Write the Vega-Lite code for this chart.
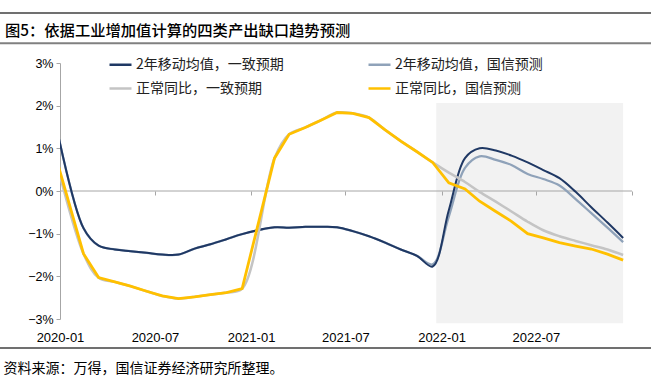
{
  "$schema": "https://vega.github.io/schema/vega-lite/v6.json",
  "width": 572,
  "height": 256,
  "autosize": {"type": "none"},
  "padding": {"left": 60, "top": 63, "right": 19, "bottom": 62},
  "background": "#ffffff",
  "config": {"view": {"stroke": null}},
  "title": {
    "text": "图5：依据工业增加值计算的四类产出缺口趋势预测",
    "anchor": "start",
    "frame": "group",
    "font": "Noto Sans CJK SC",
    "fontSize": 15.3,
    "fontWeight": 500,
    "color": "#000000",
    "baseline": "middle",
    "offset": -34,
    "dx": -55
  },
  "data": {
    "values": [
      {"date": "2019-12-15", "series": "2年移动均值，一致预期", "value": 2.1},
      {"date": "2020-02-15", "series": "2年移动均值，一致预期", "value": -0.87},
      {"date": "2020-03-15", "series": "2年移动均值，一致预期", "value": -1.28},
      {"date": "2020-04-15", "series": "2年移动均值，一致预期", "value": -1.37},
      {"date": "2020-05-15", "series": "2年移动均值，一致预期", "value": -1.41},
      {"date": "2020-06-15", "series": "2年移动均值，一致预期", "value": -1.45},
      {"date": "2020-07-15", "series": "2年移动均值，一致预期", "value": -1.49},
      {"date": "2020-08-15", "series": "2年移动均值，一致预期", "value": -1.49},
      {"date": "2020-09-15", "series": "2年移动均值，一致预期", "value": -1.35},
      {"date": "2020-10-15", "series": "2年移动均值，一致预期", "value": -1.25},
      {"date": "2020-11-15", "series": "2年移动均值，一致预期", "value": -1.13},
      {"date": "2020-12-15", "series": "2年移动均值，一致预期", "value": -1.01},
      {"date": "2021-02-15", "series": "2年移动均值，一致预期", "value": -0.85},
      {"date": "2021-03-15", "series": "2年移动均值，一致预期", "value": -0.86},
      {"date": "2021-04-15", "series": "2年移动均值，一致预期", "value": -0.84},
      {"date": "2021-05-15", "series": "2年移动均值，一致预期", "value": -0.84},
      {"date": "2021-06-15", "series": "2年移动均值，一致预期", "value": -0.85},
      {"date": "2021-07-15", "series": "2年移动均值，一致预期", "value": -0.94},
      {"date": "2021-08-15", "series": "2年移动均值，一致预期", "value": -1.06},
      {"date": "2021-09-15", "series": "2年移动均值，一致预期", "value": -1.21},
      {"date": "2021-10-15", "series": "2年移动均值，一致预期", "value": -1.37},
      {"date": "2021-11-15", "series": "2年移动均值，一致预期", "value": -1.52},
      {"date": "2021-12-15", "series": "2年移动均值，一致预期", "value": -1.77},
      {"date": "2022-01-15", "series": "2年移动均值，一致预期", "value": -0.45},
      {"date": "2022-02-15", "series": "2年移动均值，一致预期", "value": 0.77},
      {"date": "2022-03-15", "series": "2年移动均值，一致预期", "value": 1.0},
      {"date": "2022-04-15", "series": "2年移动均值，一致预期", "value": 0.95},
      {"date": "2022-05-15", "series": "2年移动均值，一致预期", "value": 0.83},
      {"date": "2022-06-15", "series": "2年移动均值，一致预期", "value": 0.67},
      {"date": "2022-07-15", "series": "2年移动均值，一致预期", "value": 0.49},
      {"date": "2022-08-15", "series": "2年移动均值，一致预期", "value": 0.3},
      {"date": "2022-09-15", "series": "2年移动均值，一致预期", "value": -0.02},
      {"date": "2022-10-15", "series": "2年移动均值，一致预期", "value": -0.38},
      {"date": "2022-11-15", "series": "2年移动均值，一致预期", "value": -0.74},
      {"date": "2022-12-15", "series": "2年移动均值，一致预期", "value": -1.1},

      {"date": "2019-12-15", "series": "2年移动均值，国信预测", "value": 2.1},
      {"date": "2020-02-15", "series": "2年移动均值，国信预测", "value": -0.87},
      {"date": "2020-03-15", "series": "2年移动均值，国信预测", "value": -1.28},
      {"date": "2020-04-15", "series": "2年移动均值，国信预测", "value": -1.37},
      {"date": "2020-05-15", "series": "2年移动均值，国信预测", "value": -1.41},
      {"date": "2020-06-15", "series": "2年移动均值，国信预测", "value": -1.45},
      {"date": "2020-07-15", "series": "2年移动均值，国信预测", "value": -1.49},
      {"date": "2020-08-15", "series": "2年移动均值，国信预测", "value": -1.49},
      {"date": "2020-09-15", "series": "2年移动均值，国信预测", "value": -1.35},
      {"date": "2020-10-15", "series": "2年移动均值，国信预测", "value": -1.25},
      {"date": "2020-11-15", "series": "2年移动均值，国信预测", "value": -1.13},
      {"date": "2020-12-15", "series": "2年移动均值，国信预测", "value": -1.01},
      {"date": "2021-02-15", "series": "2年移动均值，国信预测", "value": -0.85},
      {"date": "2021-03-15", "series": "2年移动均值，国信预测", "value": -0.86},
      {"date": "2021-04-15", "series": "2年移动均值，国信预测", "value": -0.84},
      {"date": "2021-05-15", "series": "2年移动均值，国信预测", "value": -0.84},
      {"date": "2021-06-15", "series": "2年移动均值，国信预测", "value": -0.85},
      {"date": "2021-07-15", "series": "2年移动均值，国信预测", "value": -0.94},
      {"date": "2021-08-15", "series": "2年移动均值，国信预测", "value": -1.06},
      {"date": "2021-09-15", "series": "2年移动均值，国信预测", "value": -1.21},
      {"date": "2021-10-15", "series": "2年移动均值，国信预测", "value": -1.37},
      {"date": "2021-11-15", "series": "2年移动均值，国信预测", "value": -1.52},
      {"date": "2021-12-15", "series": "2年移动均值，国信预测", "value": -1.72},
      {"date": "2022-01-15", "series": "2年移动均值，国信预测", "value": -0.6},
      {"date": "2022-02-15", "series": "2年移动均值，国信预测", "value": 0.54},
      {"date": "2022-03-15", "series": "2年移动均值，国信预测", "value": 0.81},
      {"date": "2022-04-15", "series": "2年移动均值，国信预测", "value": 0.73},
      {"date": "2022-05-15", "series": "2年移动均值，国信预测", "value": 0.61},
      {"date": "2022-06-15", "series": "2年移动均值，国信预测", "value": 0.4},
      {"date": "2022-07-15", "series": "2年移动均值，国信预测", "value": 0.28},
      {"date": "2022-08-15", "series": "2年移动均值，国信预测", "value": 0.13},
      {"date": "2022-09-15", "series": "2年移动均值，国信预测", "value": -0.19},
      {"date": "2022-10-15", "series": "2年移动均值，国信预测", "value": -0.52},
      {"date": "2022-11-15", "series": "2年移动均值，国信预测", "value": -0.86},
      {"date": "2022-12-15", "series": "2年移动均值，国信预测", "value": -1.2},

      {"date": "2019-12-15", "series": "正常同比，一致预期", "value": 1.18},
      {"date": "2020-02-15", "series": "正常同比，一致预期", "value": -1.47},
      {"date": "2020-03-15", "series": "正常同比，一致预期", "value": -2.03},
      {"date": "2020-04-15", "series": "正常同比，一致预期", "value": -2.13},
      {"date": "2020-05-15", "series": "正常同比，一致预期", "value": -2.23},
      {"date": "2020-06-15", "series": "正常同比，一致预期", "value": -2.35},
      {"date": "2020-07-15", "series": "正常同比，一致预期", "value": -2.46},
      {"date": "2020-08-15", "series": "正常同比，一致预期", "value": -2.52},
      {"date": "2020-09-15", "series": "正常同比，一致预期", "value": -2.48},
      {"date": "2020-10-15", "series": "正常同比，一致预期", "value": -2.43},
      {"date": "2020-11-15", "series": "正常同比，一致预期", "value": -2.38},
      {"date": "2020-12-15", "series": "正常同比，一致预期", "value": -2.29},
      {"date": "2021-02-15", "series": "正常同比，一致预期", "value": 0.77},
      {"date": "2021-03-15", "series": "正常同比，一致预期", "value": 1.33},
      {"date": "2021-04-15", "series": "正常同比，一致预期", "value": 1.49},
      {"date": "2021-05-15", "series": "正常同比，一致预期", "value": 1.66},
      {"date": "2021-06-15", "series": "正常同比，一致预期", "value": 1.84},
      {"date": "2021-07-15", "series": "正常同比，一致预期", "value": 1.82},
      {"date": "2021-08-15", "series": "正常同比，一致预期", "value": 1.72},
      {"date": "2021-09-15", "series": "正常同比，一致预期", "value": 1.43},
      {"date": "2021-10-15", "series": "正常同比，一致预期", "value": 1.17},
      {"date": "2021-11-15", "series": "正常同比，一致预期", "value": 0.92},
      {"date": "2021-12-15", "series": "正常同比，一致预期", "value": 0.67},
      {"date": "2022-01-15", "series": "正常同比，一致预期", "value": 0.43},
      {"date": "2022-02-15", "series": "正常同比，一致预期", "value": 0.21},
      {"date": "2022-03-15", "series": "正常同比，一致预期", "value": -0.02},
      {"date": "2022-04-15", "series": "正常同比，一致预期", "value": -0.25},
      {"date": "2022-05-15", "series": "正常同比，一致预期", "value": -0.48},
      {"date": "2022-06-15", "series": "正常同比，一致预期", "value": -0.72},
      {"date": "2022-07-15", "series": "正常同比，一致预期", "value": -0.92},
      {"date": "2022-08-15", "series": "正常同比，一致预期", "value": -1.06},
      {"date": "2022-09-15", "series": "正常同比，一致预期", "value": -1.17},
      {"date": "2022-10-15", "series": "正常同比，一致预期", "value": -1.27},
      {"date": "2022-11-15", "series": "正常同比，一致预期", "value": -1.37},
      {"date": "2022-12-15", "series": "正常同比，一致预期", "value": -1.5},

      {"date": "2019-12-15", "series": "正常同比，国信预测", "value": 1.18},
      {"date": "2020-02-15", "series": "正常同比，国信预测", "value": -1.47},
      {"date": "2020-03-15", "series": "正常同比，国信预测", "value": -2.03},
      {"date": "2020-04-15", "series": "正常同比，国信预测", "value": -2.13},
      {"date": "2020-05-15", "series": "正常同比，国信预测", "value": -2.23},
      {"date": "2020-06-15", "series": "正常同比，国信预测", "value": -2.35},
      {"date": "2020-07-15", "series": "正常同比，国信预测", "value": -2.46},
      {"date": "2020-08-15", "series": "正常同比，国信预测", "value": -2.52},
      {"date": "2020-09-15", "series": "正常同比，国信预测", "value": -2.48},
      {"date": "2020-10-15", "series": "正常同比，国信预测", "value": -2.43},
      {"date": "2020-11-15", "series": "正常同比，国信预测", "value": -2.38},
      {"date": "2020-12-15", "series": "正常同比，国信预测", "value": -2.29},
      {"date": "2021-02-15", "series": "正常同比，国信预测", "value": 0.77},
      {"date": "2021-03-15", "series": "正常同比，国信预测", "value": 1.33},
      {"date": "2021-04-15", "series": "正常同比，国信预测", "value": 1.49},
      {"date": "2021-05-15", "series": "正常同比，国信预测", "value": 1.66},
      {"date": "2021-06-15", "series": "正常同比，国信预测", "value": 1.84},
      {"date": "2021-07-15", "series": "正常同比，国信预测", "value": 1.82},
      {"date": "2021-08-15", "series": "正常同比，国信预测", "value": 1.72},
      {"date": "2021-09-15", "series": "正常同比，国信预测", "value": 1.43},
      {"date": "2021-10-15", "series": "正常同比，国信预测", "value": 1.17},
      {"date": "2021-11-15", "series": "正常同比，国信预测", "value": 0.92},
      {"date": "2021-12-15", "series": "正常同比，国信预测", "value": 0.67},
      {"date": "2022-01-15", "series": "正常同比，国信预测", "value": 0.19},
      {"date": "2022-02-15", "series": "正常同比，国信预测", "value": 0.05},
      {"date": "2022-03-15", "series": "正常同比，国信预测", "value": -0.24},
      {"date": "2022-04-15", "series": "正常同比，国信预测", "value": -0.48},
      {"date": "2022-05-15", "series": "正常同比，国信预测", "value": -0.71},
      {"date": "2022-06-15", "series": "正常同比，国信预测", "value": -1.0},
      {"date": "2022-07-15", "series": "正常同比，国信预测", "value": -1.1},
      {"date": "2022-08-15", "series": "正常同比，国信预测", "value": -1.21},
      {"date": "2022-09-15", "series": "正常同比，国信预测", "value": -1.29},
      {"date": "2022-10-15", "series": "正常同比，国信预测", "value": -1.36},
      {"date": "2022-11-15", "series": "正常同比，国信预测", "value": -1.48},
      {"date": "2022-12-15", "series": "正常同比，国信预测", "value": -1.62}
    ]
  },
  "resolve": {"axis": {"x": "independent"}},
  "layer": [
    {
      "data": {"values": [{}]},
      "mark": {"type": "rule", "color": "#404040", "strokeWidth": 1.5},
      "encoding": {
        "x": {"datum": {"year": 2019, "month": 8, "date": 1, "utc": true}, "type": "temporal", "scale": {"type": "utc", "domain": [{"year": 2020, "month": 1, "date": 1, "utc": true}, {"year": 2023, "month": 1, "date": 1, "utc": true}]}, "axis": null},
        "x2": {"datum": {"year": 2023, "month": 3, "date": 1, "utc": true}},
        "y": {"datum": 4.17, "type": "quantitative", "scale": {"domain": [-3, 3], "nice": false}}
      }
    },
    {
      "data": {"values": [{}]},
      "mark": {"type": "rule", "color": "#808080", "strokeWidth": 2},
      "encoding": {
        "x": {"datum": {"year": 2019, "month": 8, "date": 1, "utc": true}, "type": "temporal", "scale": {"type": "utc", "domain": [{"year": 2020, "month": 1, "date": 1, "utc": true}, {"year": 2023, "month": 1, "date": 1, "utc": true}]}, "axis": null},
        "x2": {"datum": {"year": 2023, "month": 3, "date": 1, "utc": true}},
        "y": {"datum": 3.46, "type": "quantitative", "scale": {"domain": [-3, 3], "nice": false}}
      }
    },
    {
      "data": {"values": [{}]},
      "mark": {"type": "rule", "color": "#404040", "strokeWidth": 1.5},
      "encoding": {
        "x": {"datum": {"year": 2019, "month": 8, "date": 1, "utc": true}, "type": "temporal", "scale": {"type": "utc", "domain": [{"year": 2020, "month": 1, "date": 1, "utc": true}, {"year": 2023, "month": 1, "date": 1, "utc": true}]}, "axis": null},
        "x2": {"datum": {"year": 2023, "month": 3, "date": 1, "utc": true}},
        "y": {"datum": -3.68, "type": "quantitative", "scale": {"domain": [-3, 3], "nice": false}}
      }
    },
    {
      "data": {"values": [{}]},
      "mark": {"type": "rect", "color": "#F2F2F2"},
      "encoding": {
        "x": {"datum": {"year": 2021, "month": 12, "date": 22, "utc": true}, "type": "temporal", "scale": {"type": "utc", "domain": [{"year": 2020, "month": 1, "date": 1, "utc": true}, {"year": 2023, "month": 1, "date": 1, "utc": true}]}, "axis": null},
        "x2": {"datum": {"year": 2022, "month": 12, "date": 15, "utc": true}},
        "y": {"datum": -3.1, "type": "quantitative", "scale": {"domain": [-3, 3], "nice": false}},
        "y2": {"datum": 2.06}
      }
    },
    {
      "data": {"values": [{}]},
      "mark": {"type": "rule", "color": "#A6A6A6", "strokeWidth": 1},
      "encoding": {
        "x": {
          "datum": {"year": 2020, "month": 1, "date": 1, "utc": true},
          "type": "temporal",
          "scale": {"type": "utc", "domain": [{"year": 2020, "month": 1, "date": 1, "utc": true}, {"year": 2023, "month": 1, "date": 1, "utc": true}]},
          "axis": {
            "orient": "bottom",
            "offset": -128,
            "domain": false,
            "labels": false,
            "grid": false,
            "title": null,
            "ticks": true,
            "tickSize": 4,
            "tickColor": "#A6A6A6",
            "tickWidth": 1,
            "zindex": 1,
            "values": [
              {"year": 2020, "month": 1, "date": 1, "utc": true},
              {"year": 2020, "month": 7, "date": 1, "utc": true},
              {"year": 2021, "month": 1, "date": 1, "utc": true},
              {"year": 2021, "month": 7, "date": 1, "utc": true},
              {"year": 2022, "month": 1, "date": 1, "utc": true},
              {"year": 2022, "month": 7, "date": 1, "utc": true},
              {"year": 2023, "month": 1, "date": 1, "utc": true}
            ]
          }
        },
        "x2": {"datum": {"year": 2023, "month": 1, "date": 1, "utc": true}},
        "y": {"datum": 0, "type": "quantitative", "scale": {"domain": [-3, 3], "nice": false}}
      }
    },
    {
      "transform": [{"filter": {"field": "series", "equal": "2年移动均值，国信预测"}}],
      "mark": {"type": "line", "interpolate": "catmull-rom", "clip": true},
      "encoding": {
        "x": {
          "field": "date",
          "type": "temporal",
          "scale": {"type": "utc", "domain": [{"year": 2020, "month": 1, "date": 1, "utc": true}, {"year": 2023, "month": 1, "date": 1, "utc": true}]},
          "axis": {
            "orient": "bottom",
            "domain": false,
            "ticks": false,
            "grid": false,
            "format": "%Y-%m",
            "labelFont": "Liberation Sans",
            "labelFontSize": 13,
            "labelColor": "#000000",
            "labelPadding": 12,
            "labelFlush": false,
            "labelOverlap": false,
            "values": [
              {"year": 2020, "month": 1, "date": 1, "utc": true},
              {"year": 2020, "month": 7, "date": 1, "utc": true},
              {"year": 2021, "month": 1, "date": 1, "utc": true},
              {"year": 2021, "month": 7, "date": 1, "utc": true},
              {"year": 2022, "month": 1, "date": 1, "utc": true},
              {"year": 2022, "month": 7, "date": 1, "utc": true}
            ],
            "title": "资料来源：万得，国信证券经济研究所整理。",
            "titleFont": "Noto Sans CJK SC",
            "titleFontSize": 14,
            "titleFontWeight": "normal",
            "titleColor": "#000000",
            "titleAlign": "left",
            "titleBaseline": "middle",
            "titleX": -57,
            "titleY": 49
          }
        },
        "y": {
          "field": "value",
          "type": "quantitative",
          "scale": {"domain": [-3, 3], "nice": false},
          "axis": {
            "title": null,
            "grid": false,
            "values": [-3, -2, -1, 0, 1, 2, 3],
            "labelExpr": "format(datum.value, 'd') + '%'",
            "labelFont": "Liberation Sans",
            "labelFontSize": 12.5,
            "labelColor": "#000000",
            "labelPadding": 3,
            "domainColor": "#A6A6A6",
            "tickColor": "#A6A6A6",
            "tickSize": 4
          }
        },
        "color": {
          "field": "series",
          "type": "nominal",
          "scale": {
            "domain": ["2年移动均值，一致预期", "正常同比，一致预期", "2年移动均值，国信预测", "正常同比，国信预测"],
            "range": ["#1F3864", "#C4C4C4", "#8FA2B9", "#FFC000"]
          },
          "legend": {
            "orient": "none",
            "legendX": 48,
            "legendY": -11,
            "columns": 2,
            "title": null,
            "padding": 0,
            "symbolType": "stroke",
            "symbolSize": 484,
            "symbolStrokeWidth": 2.5,
            "labelFont": "Noto Sans CJK SC",
            "labelFontSize": 14,
            "labelColor": "#222222",
            "labelLimit": 400,
            "labelOffset": 3,
            "columnPadding": 79,
            "rowPadding": 4
          }
        },
        "strokeWidth": {
          "field": "series",
          "type": "nominal",
          "scale": {
            "domain": ["2年移动均值，一致预期", "2年移动均值，国信预测", "正常同比，一致预期", "正常同比，国信预测"],
            "range": [2, 2.8, 2, 3]
          },
          "legend": null
        }
      }
    },
    {
      "transform": [{"filter": {"field": "series", "equal": "2年移动均值，一致预期"}}],
      "mark": {"type": "line", "interpolate": "catmull-rom", "clip": true},
      "encoding": {
        "x": {"field": "date", "type": "temporal", "scale": {"type": "utc", "domain": [{"year": 2020, "month": 1, "date": 1, "utc": true}, {"year": 2023, "month": 1, "date": 1, "utc": true}]}, "axis": null},
        "y": {"field": "value", "type": "quantitative", "scale": {"domain": [-3, 3], "nice": false}},
        "color": {"field": "series", "type": "nominal"},
        "strokeWidth": {"field": "series", "type": "nominal", "legend": null}
      }
    },
    {
      "transform": [{"filter": {"field": "series", "equal": "正常同比，一致预期"}}],
      "mark": {"type": "line", "interpolate": "catmull-rom", "clip": true},
      "encoding": {
        "x": {"field": "date", "type": "temporal", "scale": {"type": "utc", "domain": [{"year": 2020, "month": 1, "date": 1, "utc": true}, {"year": 2023, "month": 1, "date": 1, "utc": true}]}, "axis": null},
        "y": {"field": "value", "type": "quantitative", "scale": {"domain": [-3, 3], "nice": false}},
        "color": {"field": "series", "type": "nominal"},
        "strokeWidth": {"field": "series", "type": "nominal", "legend": null}
      }
    },
    {
      "transform": [{"filter": {"field": "series", "equal": "正常同比，国信预测"}}],
      "mark": {"type": "line", "interpolate": "linear", "clip": true},
      "encoding": {
        "x": {"field": "date", "type": "temporal", "scale": {"type": "utc", "domain": [{"year": 2020, "month": 1, "date": 1, "utc": true}, {"year": 2023, "month": 1, "date": 1, "utc": true}]}, "axis": null},
        "y": {"field": "value", "type": "quantitative", "scale": {"domain": [-3, 3], "nice": false}},
        "color": {"field": "series", "type": "nominal"},
        "strokeWidth": {"field": "series", "type": "nominal", "legend": null}
      }
    }
  ]
}
